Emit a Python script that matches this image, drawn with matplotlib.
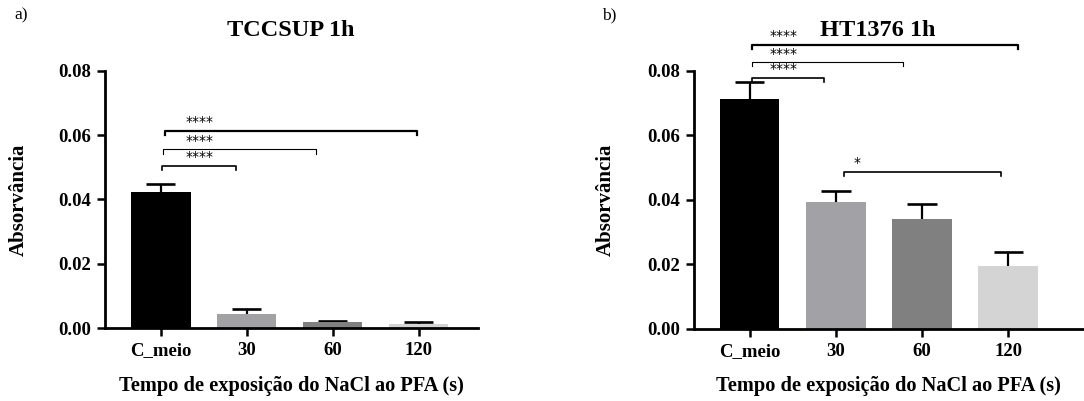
import matplotlib.pyplot as plt

plt.rcParams['font.family'] = ['Liberation Serif', 'DejaVu Serif']

categories = ['C_meio', '30', '60', '120']
colors = ['#000000', '#a2a1a6', '#808080', '#d4d4d4']

tcc_mean = [0.0422, 0.0043, 0.0019, 0.0012]
tcc_err = [0.0025, 0.0016, 0.0004, 0.0006]

ht_mean = [0.0713, 0.0393, 0.0342, 0.0196]
ht_err = [0.0054, 0.0036, 0.0046, 0.0042]

# brackets: (start, end, height, label)
tcc_sig = [(0.05, 2.98, 0.0613, '****'), (0.03, 1.80, 0.0556, '****'), (0.01, 0.87, 0.0504, '****')]
ht_sig = [(0.03, 3.11, 0.0882, '****'), (0.03, 1.78, 0.0827, '****'), (0.03, 0.86, 0.0779, '****'),
          (1.09, 2.92, 0.0488, '*')]

fig = plt.figure(figsize=(10.84, 4.01), dpi=100)
ax1 = fig.add_axes([0.0969, 0.182, 0.344, 0.641])
ax2 = fig.add_axes([0.640, 0.180, 0.360, 0.643])


def draw(ax, means, errs, sig, xmax, star_x):
    x = list(range(len(categories)))
    ax.bar(x, means, width=0.69, color=colors, zorder=2)
    tops = [m + e for m, e in zip(means, errs)]
    # upper error bars only: stem + cap
    ax.vlines(x, means, tops, color='black', lw=1.6, zorder=1)
    ax.hlines(tops, [i - 0.17 for i in x], [i + 0.17 for i in x], color='black', lw=1.9, zorder=1)
    ax.set_xlim(-0.65, xmax)
    ax.set_ylim(0, 0.08)
    ax.set_yticks([0, 0.02, 0.04, 0.06, 0.08])
    ax.set_yticklabels(['0.00', '0.02', '0.04', '0.06', '0.08'])
    ax.set_xticks(x)
    ax.set_xticklabels(categories)
    for s in ['top', 'right']:
        ax.spines[s].set_visible(False)
    for s in ['left', 'bottom']:
        ax.spines[s].set_linewidth(2)
    ax.tick_params(direction='out', length=6, width=1.8, labelsize=13.5, pad=4)
    for lab in ax.get_xticklabels() + ax.get_yticklabels():
        lab.set_fontweight('bold')
    ax.set_ylabel('Absorvância', fontsize=15, fontweight='bold')
    ax.set_xlabel('Tempo de exposição do NaCl ao PFA (s)', fontsize=14.7,
                  fontweight='bold', labelpad=12)
    lws = [1.6, 0.8, 1.2, 1.2]
    for i, (x0, x1, h, lab) in enumerate(sig):
        d = 0.0013
        ax.plot([x0, x0, x1, x1], [h - d, h, h, h - d], color='black', lw=lws[i],
                clip_on=False, zorder=3)
        sx = star_x if lab != '*' else x0 + 0.11
        ax.text(sx, h + 0.0005, lab, fontsize=10, family='DejaVu Sans',
                ha='center' if lab != '*' else 'left', va='bottom')


draw(ax1, tcc_mean, tcc_err, tcc_sig, 3.69, 0.45)
draw(ax2, ht_mean, ht_err, ht_sig, 3.88, 0.39)
ax1.yaxis.set_label_coords(-0.205, 0.5)
ax2.yaxis.set_label_coords(-0.2, 0.5)

fig.text(0.268, 0.925, 'TCCSUP 1h', ha='center', va='center', fontsize=17.5, fontweight='bold')
fig.text(0.810, 0.925, 'HT1376 1h', ha='center', va='center', fontsize=17.5, fontweight='bold')
fig.text(0.013, 0.962, 'a)', ha='left', va='center', fontsize=12.5)
fig.text(0.555, 0.962, 'b)', ha='left', va='center', fontsize=12.5)

fig.savefig('out.png', dpi=100)
